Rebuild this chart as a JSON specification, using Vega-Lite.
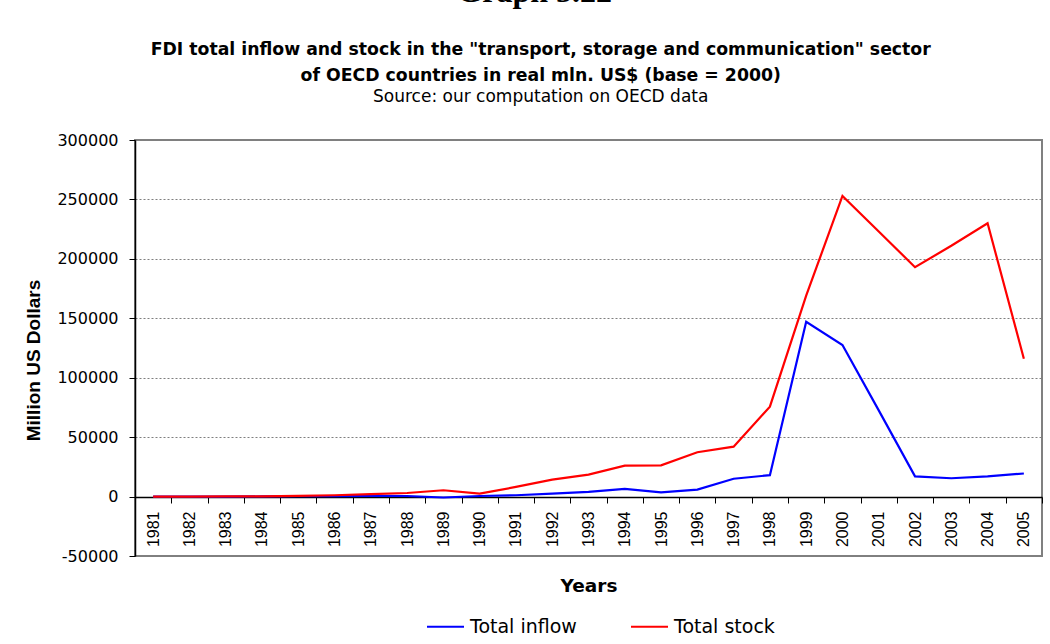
{
  "$schema": "https://vega.github.io/schema/vega-lite/v6.json",
  "background": "white",
  "padding": {"left": 23, "top": -25, "right": 0, "bottom": 0},
  "title": {
    "text": "Graph 5.22",
    "font": "Liberation Serif",
    "fontSize": 32,
    "fontWeight": "bold",
    "color": "black",
    "anchor": "middle",
    "frame": "bounds",
    "dx": 1,
    "offset": 31
  },
  "vconcat": [
    {
      "width": 907,
      "height": 416,
      "title": {
        "text": [
          "FDI total inflow and stock in the \"transport, storage and communication\" sector",
          "of OECD countries in real mln. US$ (base = 2000)"
        ],
        "subtitle": "Source: our computation on OECD data",
        "font": "DejaVu Sans",
        "fontSize": 17.3,
        "fontWeight": "bold",
        "lineHeight": 26,
        "color": "black",
        "subtitleFont": "DejaVu Sans",
        "subtitleFontSize": 17,
        "subtitleColor": "black",
        "subtitlePadding": 5,
        "anchor": "middle",
        "frame": "bounds",
        "dx": 7,
        "offset": 27
      },
      "data": {
        "values": [
          {"year": "1981", "series": "Total inflow", "value": 0},
          {"year": "1982", "series": "Total inflow", "value": 0},
          {"year": "1983", "series": "Total inflow", "value": 0},
          {"year": "1984", "series": "Total inflow", "value": 100},
          {"year": "1985", "series": "Total inflow", "value": 300},
          {"year": "1986", "series": "Total inflow", "value": 400},
          {"year": "1987", "series": "Total inflow", "value": 600},
          {"year": "1988", "series": "Total inflow", "value": 500},
          {"year": "1989", "series": "Total inflow", "value": -800},
          {"year": "1990", "series": "Total inflow", "value": 500},
          {"year": "1991", "series": "Total inflow", "value": 1100},
          {"year": "1992", "series": "Total inflow", "value": 2500},
          {"year": "1993", "series": "Total inflow", "value": 4000},
          {"year": "1994", "series": "Total inflow", "value": 6500},
          {"year": "1995", "series": "Total inflow", "value": 3600},
          {"year": "1996", "series": "Total inflow", "value": 5900},
          {"year": "1997", "series": "Total inflow", "value": 15000},
          {"year": "1998", "series": "Total inflow", "value": 18000},
          {"year": "1999", "series": "Total inflow", "value": 147000},
          {"year": "2000", "series": "Total inflow", "value": 127500},
          {"year": "2001", "series": "Total inflow", "value": 72500},
          {"year": "2002", "series": "Total inflow", "value": 17000},
          {"year": "2003", "series": "Total inflow", "value": 15400},
          {"year": "2004", "series": "Total inflow", "value": 17000},
          {"year": "2005", "series": "Total inflow", "value": 19400},
          {"year": "1981", "series": "Total stock", "value": 0},
          {"year": "1982", "series": "Total stock", "value": 0},
          {"year": "1983", "series": "Total stock", "value": 100},
          {"year": "1984", "series": "Total stock", "value": 200},
          {"year": "1985", "series": "Total stock", "value": 600},
          {"year": "1986", "series": "Total stock", "value": 1100},
          {"year": "1987", "series": "Total stock", "value": 2000},
          {"year": "1988", "series": "Total stock", "value": 3000},
          {"year": "1989", "series": "Total stock", "value": 5300},
          {"year": "1990", "series": "Total stock", "value": 2500},
          {"year": "1991", "series": "Total stock", "value": 8100},
          {"year": "1992", "series": "Total stock", "value": 14300},
          {"year": "1993", "series": "Total stock", "value": 18500},
          {"year": "1994", "series": "Total stock", "value": 26000},
          {"year": "1995", "series": "Total stock", "value": 26300},
          {"year": "1996", "series": "Total stock", "value": 37300},
          {"year": "1997", "series": "Total stock", "value": 42000},
          {"year": "1998", "series": "Total stock", "value": 75600},
          {"year": "1999", "series": "Total stock", "value": 169000},
          {"year": "2000", "series": "Total stock", "value": 253000},
          {"year": "2001", "series": "Total stock", "value": 223000},
          {"year": "2002", "series": "Total stock", "value": 193000},
          {"year": "2003", "series": "Total stock", "value": 211000},
          {"year": "2004", "series": "Total stock", "value": 230000},
          {"year": "2005", "series": "Total stock", "value": 116000}
        ]
      },
      "mark": {"type": "line", "strokeWidth": 2.2},
      "encoding": {
        "x": {
          "field": "year",
          "type": "ordinal",
          "bandPosition": 0.5,
          "scale": {"type": "band", "paddingInner": 0, "paddingOuter": 0},
          "axis": {
            "title": "Years",
            "offset": -59,
            "labelAngle": -90,
            "labelAlign": "right",
            "labelBaseline": "middle",
            "labelFont": "Liberation Sans",
            "labelFontSize": 16,
            "labelColor": "black",
            "labelPadding": 8,
            "tickSize": 6,
            "tickColor": "black",
            "tickBand": "extent",
            "domainColor": "black",
            "domainWidth": 1.5,
            "grid": false,
            "titleFont": "DejaVu Sans",
            "titleFontSize": 18.5,
            "titleFontWeight": "bold",
            "titleColor": "black",
            "titlePadding": 30
          }
        },
        "y": {
          "field": "value",
          "type": "quantitative",
          "scale": {"domain": [-50000, 300000], "nice": false, "zero": false},
          "axis": {
            "title": "Million US Dollars",
            "values": [-50000, 0, 50000, 100000, 150000, 200000, 250000, 300000],
            "labelExpr": "'' + datum.value",
            "labelFont": "DejaVu Sans",
            "labelFontSize": 16,
            "labelColor": "black",
            "labelPadding": 11,
            "tickSize": 6,
            "tickColor": "black",
            "domainColor": "black",
            "domainWidth": 1.5,
            "grid": true,
            "gridColor": "#7f7f7f",
            "gridDash": [2, 2],
            "gridWidth": 1,
            "titleFont": "Liberation Sans",
            "titleFontSize": 19,
            "titleFontWeight": "bold",
            "titleColor": "black",
            "titlePadding": 13,
            "titleY": 220
          }
        },
        "color": {
          "field": "series",
          "type": "nominal",
          "scale": {"domain": ["Total inflow", "Total stock"], "range": ["#0000ff", "#ff0000"]},
          "legend": {
            "title": null,
            "orient": "none",
            "direction": "horizontal",
            "legendX": 291,
            "legendY": 467,
            "symbolType": "stroke",
            "symbolSize": 1369,
            "symbolStrokeWidth": 2,
            "labelFont": "DejaVu Sans",
            "labelFontSize": 19,
            "labelColor": "black",
            "labelOffset": 5,
            "columnPadding": 50
          }
        }
      }
    }
  ],
  "config": {
    "view": {"stroke": "#808080", "strokeWidth": 2},
    "concat": {"spacing": 0}
  }
}
